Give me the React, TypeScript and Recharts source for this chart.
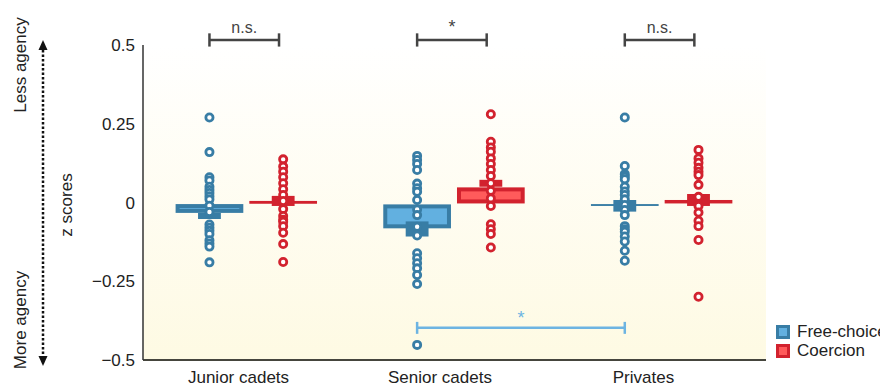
import React from 'react'
import {
  ComposedChart,
  Scatter,
  XAxis,
  YAxis,
  CartesianGrid,
  ReferenceArea,
  ReferenceLine,
} from 'recharts'

const CATEGORIES = ['Junior cadets', 'Senior cadets', 'Privates']
const Y_TICKS = [-0.5, -0.25, 0, 0.25, 0.5]

// individual z scores, per group
const FREE_JUNIOR = [0.27, 0.16, 0.08, 0.07, 0.05, 0.04, 0.03, 0.02, 0.01, -0.01, -0.03, -0.07, -0.08, -0.09, -0.1, -0.12, -0.13, -0.14, -0.19]
const FREE_SENIOR = [0.148, 0.135, 0.122, 0.103, 0.06, 0.045, 0.034, 0.008, -0.022, -0.04, -0.077, -0.105, -0.161, -0.177, -0.193, -0.209, -0.23, -0.259, -0.452]
const FREE_PRIVATES = [0.27, 0.116, 0.09, 0.082, 0.074, 0.05, 0.035, 0.024, 0.01, -0.008, -0.024, -0.04, -0.075, -0.085, -0.093, -0.108, -0.124, -0.153, -0.185]
const COER_JUNIOR = [0.137, 0.114, 0.098, 0.08, 0.061, 0.042, 0.024, 0.005, -0.021, -0.043, -0.055, -0.061, -0.075, -0.096, -0.132, -0.189]
const COER_SENIOR = [0.28, 0.193, 0.175, 0.161, 0.14, 0.122, 0.103, 0.084, 0.061, 0.037, 0.013, -0.011, -0.069, -0.085, -0.1, -0.143]
const COER_PRIVATES = [0.167, 0.14, 0.126, 0.11, 0.098, 0.087, 0.056, 0.018, -0.011, -0.032, -0.058, -0.075, -0.119, -0.299]

// summary boxes [low, high] (outer edges) and median marks [low, high]
const FREE_BOX = [[-0.033, -0.005], [-0.082, -0.006], [-0.011, -0.005]]
const FREE_MED = [[-0.052, -0.033], [-0.108, -0.06], [-0.029, 0.008]]
const COER_BOX = [[-0.004, 0.005], [-0.003, 0.048], [-0.003, 0.008]]
const COER_MED = [[-0.011, 0.021], [0.05, 0.072], [-0.011, 0.027]]

const SIG_TOP = ['n.s.', '*', 'n.s.']

const FREE_DARK = '#387da5'
const FREE_LIGHT = '#62b0e0'
const COER_DARK = '#d2222e'
const COER_LIGHT = '#ff5b5b'
const FONT = '"Liberation Sans", Arial, sans-serif'

const FREE_OFF = 0.32
const COER_OFF = 0.675
const BOX_HALF = 0.163
const MED_HALF = 0.055
const TICK_POS = [0.46, 1.43, 2.41]

const toPoints = (vals: number[], x: number) => vals.map((y) => ({ x, y }))

const freeData = [FREE_JUNIOR, FREE_SENIOR, FREE_PRIVATES].flatMap((v, i) => toPoints(v, i + FREE_OFF))
const coerData = [COER_JUNIOR, COER_SENIOR, COER_PRIVATES].flatMap((v, i) => toPoints(v, i + COER_OFF))

const ringShape = (color: string) => (props: any) => (
  <circle cx={props.cx} cy={props.cy} r={3.6} fill="#fff" stroke={color} strokeWidth={2.8} />
)

const boxShape = (dark: string, light: string) => (props: any) => {
  const { x, y, width, height } = props
  const b = 4
  return (
    <g>
      <rect x={x} y={y} width={width} height={height} fill={dark} />
      {height > 2 * b && width > 2 * b && (
        <rect x={x + b} y={y + b} width={width - 2 * b} height={height - 2 * b} fill={light} />
      )}
    </g>
  )
}

function Legend() {
  const item = (label: string, dark: string, light: string) => (
    <div style={{ display: 'flex', alignItems: 'center', height: 19 }}>
      <div style={{ width: 8, height: 8, border: `3px solid ${dark}`, background: light, marginRight: 7 }} />
      <span style={{ fontSize: 17, color: '#222' }}>{label}</span>
    </div>
  )
  return (
    <div style={{ position: 'absolute', left: 776, top: 322, fontFamily: FONT, whiteSpace: 'nowrap' }}>
      {item('Free-choice', FREE_DARK, FREE_LIGHT)}
      {item('Coercion', COER_DARK, COER_LIGHT)}
    </div>
  )
}

function SideNotes() {
  return (
    <svg width={140} height={387} style={{ position: 'absolute', left: 0, top: 0 }}>
      <line x1={43} y1={50} x2={43} y2={356} stroke="#111" strokeWidth={2.5} strokeDasharray="2.5 2" />
      <polygon points="43,40 38.5,50 47.5,50" fill="#111" />
      <polygon points="43,366 38.5,356 47.5,356" fill="#111" />
      <g fontFamily={FONT} fontSize={17} fill="#222" textAnchor="middle">
        <text transform="translate(26,65) rotate(-90)">Less agency</text>
        <text transform="translate(26,320) rotate(-90)">More agency</text>
        <text transform="translate(72,205) rotate(-90)">z scores</text>
      </g>
    </svg>
  )
}

export default function App() {
  return (
    <div style={{ position: 'relative', width: 880, height: 387, background: '#fff', overflow: 'hidden' }}>
      <style>{'body{margin:0}'}</style>
      <ComposedChart width={880} height={387} margin={{ top: 45, right: 114, bottom: 0, left: 83 }}>
        <defs>
          <linearGradient id="plotBg" x1="0" y1="0" x2="0" y2="1">
            <stop offset="0%" stopColor="#ffffff" />
            <stop offset="100%" stopColor="#fefae3" />
          </linearGradient>
        </defs>
        <CartesianGrid horizontal={false} vertical={false} fill="url(#plotBg)" />
        <XAxis
          type="number"
          dataKey="x"
          domain={[0, 3]}
          ticks={TICK_POS}
          tickFormatter={(_v: number, i: number) => CATEGORIES[i]}
          height={27}
          tickLine={false}
          axisLine={{ stroke: '#45453d', strokeWidth: 2 }}
          tick={{ fill: '#222', fontSize: 17, fontFamily: FONT, dy: 3 }}
          interval={0}
        />
        <YAxis
          type="number"
          dataKey="y"
          domain={[-0.5, 0.5]}
          ticks={Y_TICKS}
          width={60}
          tickLine={false}
          axisLine={{ stroke: '#333', strokeWidth: 1.5 }}
          tickFormatter={(v: number) => (v === 0 ? '0' : v < 0 ? '\u2212' + Math.abs(v) : String(v))}
          tick={{ fill: '#222', fontSize: 17, fontFamily: FONT }}
        />

        {FREE_BOX.map((b, i) => (
          <ReferenceArea key={'fb' + i} x1={i + FREE_OFF - BOX_HALF} x2={i + FREE_OFF + BOX_HALF} y1={b[0]} y2={b[1]}
            shape={boxShape(FREE_DARK, FREE_LIGHT)} ifOverflow="visible" />
        ))}
        {COER_BOX.map((b, i) => (
          <ReferenceArea key={'cb' + i} x1={i + COER_OFF - BOX_HALF} x2={i + COER_OFF + BOX_HALF} y1={b[0]} y2={b[1]}
            shape={boxShape(COER_DARK, COER_LIGHT)} ifOverflow="visible" />
        ))}
        {FREE_MED.map((b, i) => (
          <ReferenceArea key={'fm' + i} x1={i + FREE_OFF - MED_HALF} x2={i + FREE_OFF + MED_HALF} y1={b[0]} y2={b[1]}
            fill={FREE_DARK} fillOpacity={1} ifOverflow="visible" />
        ))}
        {COER_MED.map((b, i) => (
          <ReferenceArea key={'cm' + i} x1={i + COER_OFF - MED_HALF} x2={i + COER_OFF + MED_HALF} y1={b[0]} y2={b[1]}
            fill={COER_DARK} fillOpacity={1} ifOverflow="visible" />
        ))}

        {SIG_TOP.map((s, i) => (
          <React.Fragment key={'sig' + i}>
            <ReferenceLine segment={[{ x: i + FREE_OFF, y: 0.516 }, { x: i + COER_OFF - 0.02, y: 0.516 }]}
              stroke="#444" strokeWidth={2.5} ifOverflow="visible"
              label={{ value: s, position: 'top', offset: 7, fill: '#444', fontSize: s === '*' ? 18 : 16, fontFamily: FONT }} />
            <ReferenceLine segment={[{ x: i + FREE_OFF, y: 0.495 }, { x: i + FREE_OFF, y: 0.537 }]}
              stroke="#444" strokeWidth={2.5} ifOverflow="visible" />
            <ReferenceLine segment={[{ x: i + COER_OFF - 0.02, y: 0.495 }, { x: i + COER_OFF - 0.02, y: 0.537 }]}
              stroke="#444" strokeWidth={2.5} ifOverflow="visible" />
          </React.Fragment>
        ))}

        <ReferenceLine segment={[{ x: 1 + FREE_OFF, y: -0.398 }, { x: 2 + FREE_OFF, y: -0.398 }]}
          stroke="#6db4e2" strokeWidth={2.5} ifOverflow="visible"
          label={{ value: '*', position: 'top', offset: 4, fill: '#6db4e2', fontSize: 18, fontFamily: FONT }} />
        <ReferenceLine segment={[{ x: 1 + FREE_OFF, y: -0.379 }, { x: 1 + FREE_OFF, y: -0.417 }]}
          stroke="#6db4e2" strokeWidth={2.5} ifOverflow="visible" />
        <ReferenceLine segment={[{ x: 2 + FREE_OFF, y: -0.379 }, { x: 2 + FREE_OFF, y: -0.417 }]}
          stroke="#6db4e2" strokeWidth={2.5} ifOverflow="visible" />

        <Scatter name="Free-choice" data={freeData} shape={ringShape(FREE_DARK)} isAnimationActive={false} />
        <Scatter name="Coercion" data={coerData} shape={ringShape(COER_DARK)} isAnimationActive={false} />
      </ComposedChart>
      <SideNotes />
      <Legend />
    </div>
  )
}
